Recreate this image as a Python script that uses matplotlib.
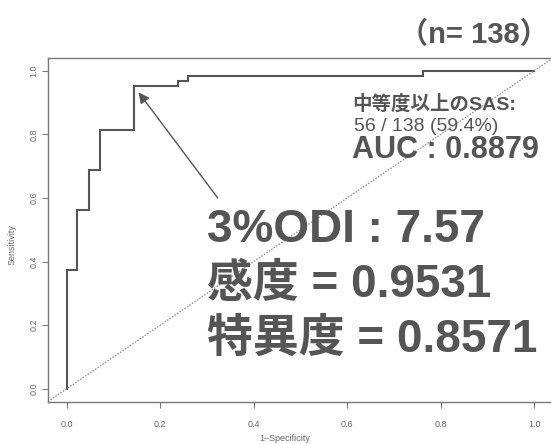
import matplotlib
matplotlib.use("Agg")
import matplotlib.pyplot as plt

# ROC curve data (1-Specificity, Sensitivity)
fpr = [0.0, 0.0, 0.023, 0.023, 0.048, 0.048, 0.071, 0.071, 0.143, 0.143, 0.238, 0.238, 0.260, 0.260, 0.763, 0.763, 1.0]
tpr = [0.0, 0.375, 0.375, 0.5625, 0.5625, 0.6875, 0.6875, 0.8125, 0.8125, 0.953, 0.953, 0.969, 0.969, 0.984, 0.984, 1.0, 1.0]
ticks = [0.0, 0.2, 0.4, 0.6, 0.8, 1.0]
tick_labels = ["0.0", "0.2", "0.4", "0.6", "0.8", "1.0"]
cutoff_point = (0.143, 0.953)

W, H = 551, 444
fig = plt.figure(figsize=(W / 100, H / 100), dpi=100)
fig.patch.set_facecolor("white")

def fx(x):
    return x / W

def fy(y):
    return 1 - y / H

ax = fig.add_axes([fx(48), fy(401.5), (553 - 48) / W, (401.5 - 58) / H])
ax.set_xlim(-0.04, 1.04)
ax.set_ylim(-0.04, 1.04)

grey = "#555555"
ax.step(fpr, tpr, where="post", color=grey, lw=1.5, solid_joinstyle="miter")
ax.plot([-0.04, 1.04], [-0.04, 1.04], color="#888888", lw=0.9, ls=(0, (1.2, 1.2)))

for s in ax.spines.values():
    s.set_color("#777777")
    s.set_linewidth(1.0)

ax.set_xticks(ticks)
ax.set_xticklabels(tick_labels)
ax.set_yticks(ticks)
ax.set_yticklabels(tick_labels, rotation=90, va="center")
ax.tick_params(direction="out", length=4, width=0.8, color="#777777",
               labelsize=6.5, labelcolor="#666666")
ax.tick_params(axis="x", pad=9)
ax.tick_params(axis="y", pad=3)
for lab in ax.get_xticklabels() + ax.get_yticklabels():
    lab.set_family("Liberation Sans")

fig.text(fx(12), fy(245), "Sensitivity", rotation=90, ha="center", va="center",
         fontsize=6.5, color="#666666", family="Liberation Sans")
fig.text(fx(285), fy(438), "1\u2013Specificity", ha="center", va="center",
         fontsize=6.5, color="#666666", family="Liberation Sans")

ax.annotate("", xy=cutoff_point, xytext=(0.323, 0.60),
            xycoords="data", textcoords="data",
            arrowprops=dict(arrowstyle="-|>", color=grey, lw=1.0,
                            mutation_scale=16, shrinkA=0, shrinkB=6))

fam = ["Liberation Sans", "Noto Sans CJK JP"]
tc = "#555555"
fig.text(fx(474), fy(43), "\uff08n= 138\uff09", ha="center", va="baseline",
         fontsize=21, fontweight="bold", color=tc, family=fam)
fig.text(fx(352), fy(110), "中等度以上のSAS:", ha="left", va="baseline",
         fontsize=14, fontweight="bold", color=tc, family=fam)
fig.text(fx(354), fy(131), "56 / 138 (59.4%)", ha="left", va="baseline",
         fontsize=14, color=tc, family=fam)
fig.text(fx(352), fy(158), "AUC : 0.8879", ha="left", va="baseline",
         fontsize=22, fontweight="bold", color=tc, family=fam)
fig.text(fx(207), fy(242), "3%ODI : 7.57", ha="left", va="baseline",
         fontsize=33, fontweight="bold", color=tc, family=fam)
fig.text(fx(207), fy(297), "感度 = 0.9531", ha="left", va="baseline",
         fontsize=33, fontweight="bold", color=tc, family=fam)
fig.text(fx(207), fy(352), "特異度 = 0.8571", ha="left", va="baseline",
         fontsize=33, fontweight="bold", color=tc, family=fam)

fig.savefig("out.png", dpi=100, facecolor="white")
